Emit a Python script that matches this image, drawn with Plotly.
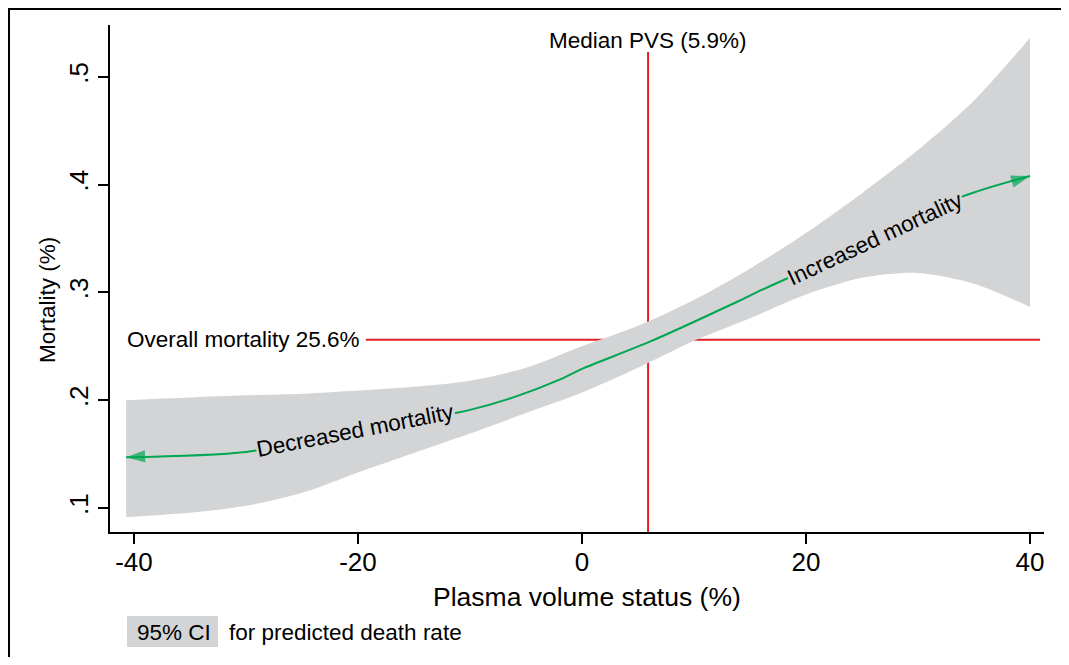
import plotly.graph_objects as go

# ---- data ----
ci_x = [-40.7, -35, -30, -25, -20, -15, -10, -5, 0, 5, 10, 15, 20, 25, 30, 35, 40]
ci_hi = [0.200, 0.2025, 0.2045, 0.206, 0.209, 0.2125, 0.218, 0.230, 0.250, 0.269,
         0.293, 0.322, 0.355, 0.392, 0.432, 0.478, 0.536]
ci_lo = [0.0915, 0.0955, 0.102, 0.114, 0.133, 0.151, 0.169, 0.188, 0.207, 0.230,
         0.255, 0.276, 0.298, 0.3135, 0.318, 0.308, 0.2865]

pred_x = [-40.7, -30, -20, -10, -6, -2, 0, 6, 14, 16, 26, 34, 40]
pred_y = [0.147, 0.152, 0.171, 0.191, 0.203, 0.219, 0.229, 0.254, 0.292, 0.302,
          0.349, 0.389, 0.408]

median_pvs = 5.9
overall_mortality = 0.256

x_ticks = [-40, -20, 0, 20, 40]
x_ticktext = ["-40", "-20", "0", "20", "40"]
y_ticks = [0.1, 0.2, 0.3, 0.4, 0.5]
y_ticktext = [".1", ".2", ".3", ".4", ".5"]

# ---- style / layout (page has an 8px body margin) ----
OFF = 8
W, H = 1069 - 2 * OFF, 665 - 2 * OFF
# plot area in page pixels: x 110..1044, y 25..532
ML = 110 - OFF
MR = W - (1044 - OFF)
MT = 25 - OFF
MB = H - (532 - OFF)
PW, PH = W - ML - MR, H - MT - MB
FONT = "Liberation Sans, Arial, Helvetica, sans-serif"
BAND = "#D3D4D6"
GREEN = "#00A651"
RED = "#E41E26"


def px_x(px):
    """page pixel x -> paper coordinate"""
    return (px - OFF - ML) / PW


def px_y(py):
    """page pixel y -> paper coordinate"""
    return (H - MB - (py - OFF)) / PH


X_RANGE = [-42.14, 41.25]
Y_RANGE = [0.0777, 0.548]

fig = go.Figure()

# red reference lines (drawn beneath the band)
fig.add_trace(go.Scatter(x=[median_pvs, median_pvs], y=[Y_RANGE[0], 0.523], mode="lines",
                         line=dict(color=RED, width=2), hoverinfo="skip", showlegend=False))
fig.add_trace(go.Scatter(x=[-19.3, 40.9], y=[overall_mortality, overall_mortality], mode="lines",
                         line=dict(color=RED, width=2), hoverinfo="skip", showlegend=False))

# confidence band
fig.add_trace(go.Scatter(x=ci_x, y=ci_lo, mode="lines",
                         line=dict(width=0, color=BAND, shape="spline", smoothing=0.8),
                         hoverinfo="skip", showlegend=False))
fig.add_trace(go.Scatter(x=ci_x, y=ci_hi, mode="lines", fill="tonexty", fillcolor=BAND,
                         line=dict(width=0, color=BAND, shape="spline", smoothing=0.8),
                         hoverinfo="skip", showlegend=False))

# predicted curve with arrowhead at right end
n = len(pred_x)
fig.add_trace(go.Scatter(x=pred_x, y=pred_y, mode="lines+markers",
                         line=dict(color=GREEN, width=2, shape="spline", smoothing=0.8),
                         marker=dict(symbol=["arrow"] * n, size=[0] * (n - 1) + [20], color=GREEN,
                                     angleref="previous", line=dict(width=0)),
                         hoverinfo="skip", showlegend=False))
# arrowhead at left end
fig.add_trace(go.Scatter(x=pred_x[1::-1], y=pred_y[1::-1], mode="markers",
                         marker=dict(symbol="arrow", size=[0, 20], color=GREEN,
                                     angleref="previous", line=dict(width=0)),
                         hoverinfo="skip", showlegend=False))

TXT = dict(size=22.5, color="black", family=FONT)
annotations = [
    dict(x=-20.2, y=0.1715, xref="x", yref="y", text="Decreased mortality", showarrow=False,
         textangle=-11, bgcolor=BAND, borderpad=0, font=TXT),
    dict(x=26.25, y=0.3497, xref="x", yref="y", text="Increased mortality", showarrow=False,
         textangle=-25, bgcolor=BAND, borderpad=0, font=TXT),
    dict(x=median_pvs, y=0.534, xref="x", yref="y", text="Median PVS (5.9%)", showarrow=False,
         xanchor="center", yanchor="middle", font=TXT),
    dict(x=-19.6, y=overall_mortality, xref="x", yref="y", text="Overall mortality 25.6%", showarrow=False,
         xanchor="right", yanchor="middle", font=TXT),
    # axis titles
    dict(x=px_x(587), y=px_y(597), xref="paper", yref="paper", text="Plasma volume status (%)",
         showarrow=False, xanchor="center", yanchor="middle", font=dict(size=26.5, family=FONT, color="black")),
    dict(x=px_x(47), y=px_y(300), xref="paper", yref="paper", text="Mortality (%)", textangle=-90,
         showarrow=False, xanchor="center", yanchor="middle", font=dict(size=22.5, family=FONT, color="black")),
    # legend
    dict(x=px_x(135), y=px_y(632), xref="paper", yref="paper", text="95% CI", showarrow=False,
         xanchor="left", yanchor="middle", font=TXT),
    dict(x=px_x(227), y=px_y(632), xref="paper", yref="paper", text="for predicted death rate", showarrow=False,
         xanchor="left", yanchor="middle", font=TXT),
]

shapes = [
    # outer frame edges
    dict(type="line", xref="paper", yref="paper", x0=px_x(OFF + 1), x1=px_x(OFF + 1), y0=px_y(700), y1=px_y(OFF),
         line=dict(color="black", width=2), layer="below"),
    dict(type="line", xref="paper", yref="paper", x0=px_x(OFF), x1=px_x(1100), y0=px_y(OFF + 1), y1=px_y(OFF + 1),
         line=dict(color="black", width=2), layer="below"),
    # legend key
    dict(type="rect", xref="paper", yref="paper", x0=px_x(127), y0=px_y(647), x1=px_x(218), y1=px_y(616),
         fillcolor=BAND, line=dict(width=0), layer="below"),
]

fig.update_layout(
    width=W, height=H,
    margin=dict(l=ML, r=MR, t=MT, b=MB),
    paper_bgcolor="white", plot_bgcolor="white",
    font=dict(family=FONT, color="black"),
    showlegend=False,
    annotations=annotations,
    shapes=shapes,
    xaxis=dict(range=X_RANGE, tickvals=x_ticks, ticktext=x_ticktext, showgrid=False, zeroline=False,
               showline=True, linecolor="black", linewidth=2, ticks="outside", ticklen=10, tickwidth=2,
               tickcolor="black", tickfont=dict(size=26, family=FONT), ticklabelstandoff=-4),
    yaxis=dict(range=Y_RANGE, tickvals=y_ticks, ticktext=y_ticktext, showgrid=False, zeroline=False,
               showline=True, linecolor="black", linewidth=2, ticks="outside", ticklen=10, tickwidth=2,
               tickcolor="black", tickangle=-90, tickfont=dict(size=26, family=FONT)),
)

fig.write_html("out.html")
